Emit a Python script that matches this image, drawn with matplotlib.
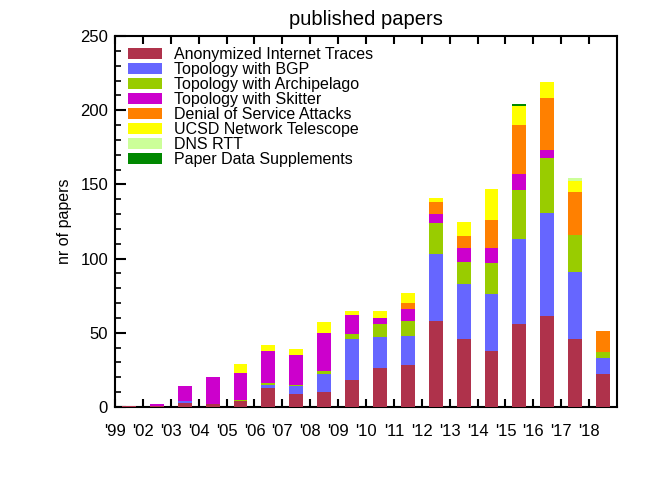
import numpy as np
import matplotlib
matplotlib.use("Agg")
import matplotlib.pyplot as plt

plt.rcParams['font.family'] = ['Liberation Sans', 'DejaVu Sans']

# jahr-labels (sitzen an den slotgrenzen, nicht unter den balken)
years = ["'99", "'02", "'03", "'04", "'05", "'06", "'07", "'08", "'09",
         "'10", "'11", "'12", "'13", "'14", "'15", "'16", "'17", "'18"]

# anzahl papers pro datensatz
anon     = [1, 1, 3, 2, 4, 13, 9, 10, 18, 26, 28, 58, 46, 38, 56, 61, 46, 22]
bgp      = [0, 0, 1, 0, 0, 2, 5, 12, 28, 21, 20, 45, 37, 38, 57, 70, 45, 11]
arch     = [0, 0, 0, 0, 1, 1, 1, 2, 3, 9, 10, 21, 15, 21, 33, 37, 25, 4]
skitter  = [0, 1, 10, 18, 18, 22, 20, 26, 13, 4, 8, 6, 9, 10, 11, 5, 0, 0]
dos      = [0, 0, 0, 0, 0, 0, 0, 0, 0, 0, 4, 8, 8, 19, 33, 35, 29, 14]
ucsd     = [0, 0, 0, 0, 6, 4, 4, 7, 3, 5, 7, 3, 10, 21, 13, 11, 7, 0]
dns      = [0, 0, 0, 0, 0, 0, 0, 0, 0, 0, 0, 0, 0, 0, 0, 0, 2, 0]
supp     = [0, 0, 0, 0, 0, 0, 0, 0, 0, 0, 0, 0, 0, 0, 1, 0, 0, 0]

series = [anon, bgp, arch, skitter, dos, ucsd, dns, supp]
names = ["Anonymized Internet Traces", "Topology with BGP", "Topology with Archipelago",
         "Topology with Skitter", "Denial of Service Attacks", "UCSD Network Telescope",
         "DNS RTT", "Paper Data Supplements"]
colors = ["#AF324B", "#6666FF", "#99CC00", "#CC00CC", "#FF8000", "#FFFF00", "#CCFF99", "#008800"]

fig = plt.figure(figsize=(6.51, 4.8), dpi=100)
ax = fig.add_axes([115/651, 1-407/480, (617-115)/651, (407-36)/480])

# balken mittig im slot, gestapelt
x = np.arange(len(years)) + 0.5
bottom = np.zeros(len(years))
for vals, name, col in zip(series, names, colors):
    vals = np.array(vals, dtype=float)
    ax.bar(x, vals, 0.5, bottom=bottom, color=col, label=name, linewidth=0, zorder=3)
    bottom += vals

ax.set_xlim(0, len(years))
ax.set_ylim(0, 250)
ax.set_xticks(np.arange(len(years)))
ax.set_xticklabels(years)
ax.set_yticks([0, 50, 100, 150, 200, 250])
ax.set_yticks(np.arange(0, 251, 10), minor=True)

for s in ax.spines.values():
    s.set_linewidth(1.5)
ax.tick_params(axis='x', direction='in', top=True, length=6, width=1.5, pad=12, labelsize=12)
ax.tick_params(axis='y', direction='in', right=False, length=8, width=1.5, pad=5, labelsize=12)
ax.tick_params(axis='y', which='minor', direction='in', right=False, length=4, width=1.2)
ax.tick_params(axis='x', which='minor', bottom=False, top=False)

ax.set_ylabel("nr of papers", fontsize=11.5, labelpad=6)
ax.set_title("published papers", fontsize=14.5, pad=8)

ax.legend(loc='upper left', bbox_to_anchor=(128/651, 1-47/480), bbox_transform=fig.transFigure,
          frameon=False, fontsize=11.5, labelspacing=0.0, handlelength=2.1, handleheight=0.65,
          handletextpad=0.8, borderpad=0, borderaxespad=0)

fig.savefig("out.png", dpi=100)
